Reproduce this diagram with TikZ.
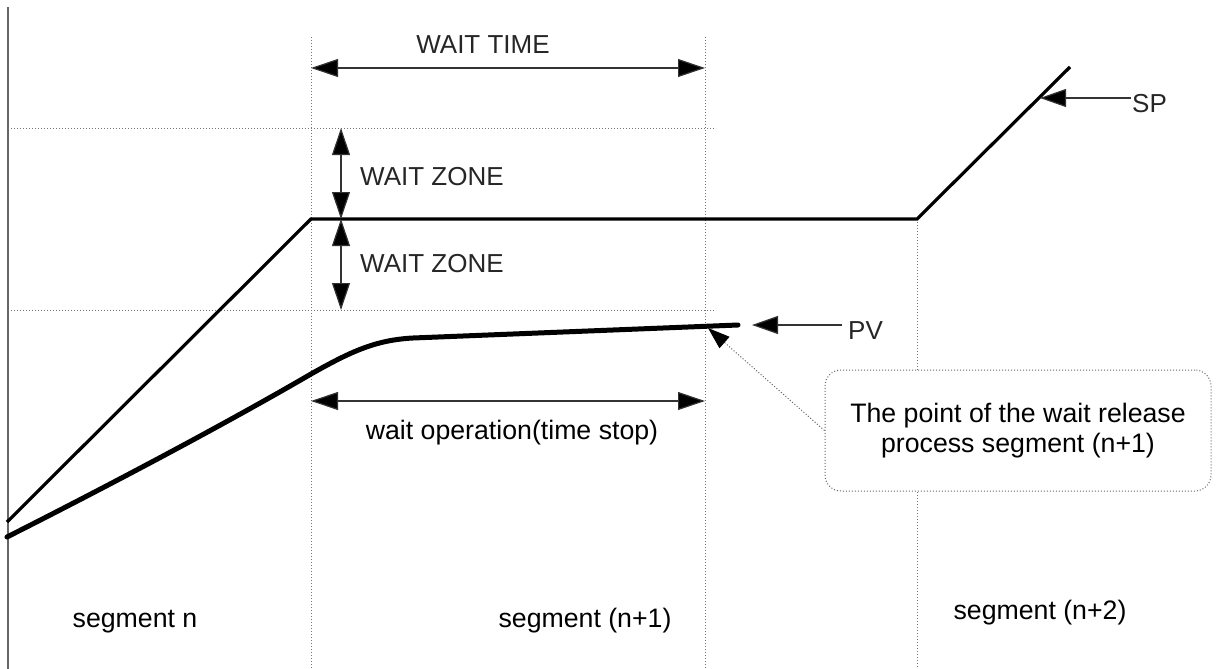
\documentclass[tikz,border=0pt]{standalone}
\usepackage{fontspec}
\setmainfont{Liberation Sans}
\usetikzlibrary{arrows.meta}
\begin{document}
\begin{tikzpicture}[x=1pt,y=-1pt,
  lbl/.style={font=\fontsize{26.7pt}{30pt}\selectfont, inner sep=0pt, text=black},
  caps/.style={font=\fontsize{26pt}{30pt}\selectfont, inner sep=0pt, text=black!85},
  guide/.style={draw=black!55, line width=1pt, dash pattern=on 1pt off 2pt},
  dim/.style={draw=black!80, line width=1.2pt, {Triangle[length=27pt,width=18pt,fill=black]}-{Triangle[length=27pt,width=18pt,fill=black]}},
  ptr/.style={draw=black!80, line width=1.2pt, -{Triangle[length=26pt,width=18pt,fill=black]}},
  spline/.style={draw=black, line width=3.2pt, line join=miter},
  pvline/.style={draw=black, line width=5pt, line cap=round},
  callout/.style={draw=black!60, line width=1pt, dash pattern=on 1pt off 2pt, rounded corners=16pt, fill=white,
    minimum width=386pt, minimum height=121pt, align=center, font=\fontsize{26.7pt}{30pt}\selectfont, inner sep=0pt}]
\useasboundingbox (0,0) rectangle (1221,669);

% axis
\coordinate (axT) at (8,7);
\coordinate (axB) at (8,669);
\draw[black!60, line width=1.5pt] (axT) -- (axB);

% guide lines
\coordinate (g1T) at (311,37);   \coordinate (g1B) at (311,669);
\coordinate (g2T) at (705,37);   \coordinate (g2B) at (705,669);
\coordinate (g3T) at (917,219);  \coordinate (g3B) at (917,669);
\coordinate (h1L) at (8,128);    \coordinate (h1R) at (716,128);
\coordinate (h2L) at (8,310);    \coordinate (h2R) at (716,310);
\draw[guide] (g1T) -- (g1B);
\draw[guide] (g2T) -- (g2B);
\draw[guide] (g3T) -- (g3B);
\draw[guide] (h1L) -- (h1R);
\draw[guide] (h2L) -- (h2R);

% SP curve
\coordinate (sp0) at (7,522);
\coordinate (sp1) at (311,219);
\coordinate (sp2) at (917,219);
\coordinate (sp3) at (1070,67);
\draw[spline] (sp0) -- (sp1) -- (sp2) -- (sp3);

% PV curve
\coordinate (pv0) at (7,537);
\coordinate (pv1) at (311,374);
\coordinate (pv2) at (413,338);
\coordinate (pv3) at (738,325);
\draw[pvline] (pv0) .. controls (100,490) and (220,427) .. (pv1)
  .. controls (350,352) and (375,340) .. (pv2) -- (pv3);

% WAIT TIME
\coordinate (wtL) at (311,68);
\coordinate (wtR) at (705,68);
\draw[dim] (wtL) -- (wtR);
\node[caps, anchor=base] (wtlbl) at (483,54) {WAIT TIME};

% WAIT ZONE
\coordinate (wz1) at (341,128);
\coordinate (wz2) at (341,219);
\coordinate (wz3) at (341,310);
\draw[dim] (wz1) -- (wz2);
\draw[dim] (wz2) -- (wz3);
\node[caps, anchor=base west] (wz1lbl) at (360,185) {WAIT ZONE};
\node[caps, anchor=base west] (wz2lbl) at (360,272) {WAIT ZONE};

% wait operation
\coordinate (woL) at (311,401);
\coordinate (woR) at (705,401);
\draw[dim] (woL) -- (woR);
\node[lbl, anchor=base] (wolbl) at (512,439) {wait operation(time stop)};

% SP pointer
\node[caps, anchor=base west] (splbl) at (1132,112) {SP};
\coordinate (spS) at (1131,98);
\coordinate (spTip) at (1040,98);
\draw[ptr] (spS) -- (spTip);

% PV pointer
\node[caps, anchor=base west] (pvlbl) at (848,339) {PV};
\coordinate (pvS) at (842,325);
\coordinate (pvTip) at (752,325);
\draw[ptr] (pvS) -- (pvTip);

% callout
\node[callout] (box) at (1018,430.5) {The point of the wait release\\process segment (n+1)};
\coordinate (coTip) at (708,328);
\draw[draw=black!60, line width=1pt, dash pattern=on 1pt off 2pt,
  -{Triangle[length=22pt,width=15pt,fill=black,black]}] (box.west) -- (coTip);

% segment labels
\node[lbl, anchor=base] (segn) at (135,627) {segment n};
\node[lbl, anchor=base] (segn1) at (585,627) {segment (n+1)};
\node[lbl, anchor=base] (segn2) at (1040,619) {segment (n+2)};
\end{tikzpicture}
\end{document}
